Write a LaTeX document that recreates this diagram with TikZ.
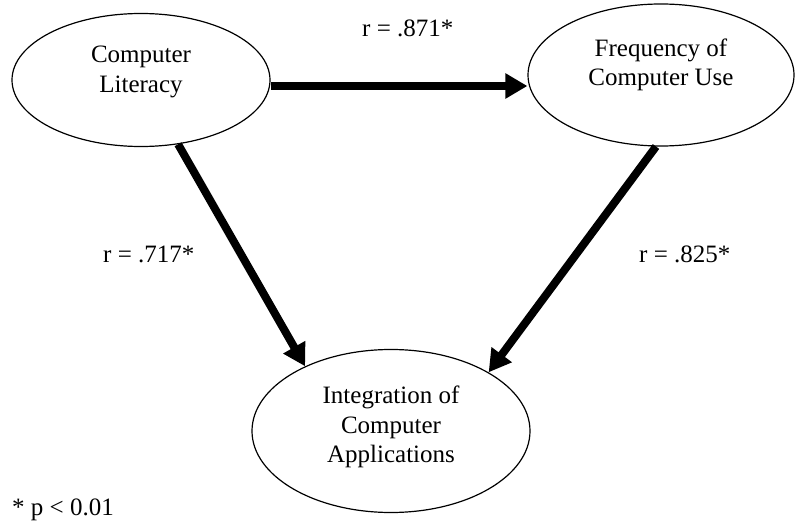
\documentclass[tikz,border=0pt]{standalone}
\usepackage{fontspec}
\setmainfont{Liberation Serif}
\usetikzlibrary{shapes.geometric,arrows.meta}

\tikzset{
  oval/.style={draw, ellipse, line width=1.2pt, inner sep=0pt},
  caption/.style={font=\fontsize{25}{29.5}\selectfont, align=center, inner sep=0pt},
  coef/.style={font=\fontsize{25}{29.5}\selectfont, inner sep=0pt, anchor=base west},
  path/.style={line width=8pt, -{Triangle[length=22pt,width=24pt]}}
}

\begin{document}
\begin{tikzpicture}[x=1pt,y=1pt]
  \useasboundingbox (0,0) rectangle (795,531);

  % constructs
  \node[oval, minimum width=258pt, minimum height=133pt] (lit) at (141,451) {};
  \node[oval, minimum width=266pt, minimum height=142pt] (freq) at (661,456) {};
  \node[oval, minimum width=278pt, minimum height=163pt] (integ) at (391,100) {};

  \node[caption] (litT) at ([yshift=8pt]lit.center) {Computer\\Literacy};
  \node[caption] (freqT) at ([yshift=10pt]freq.center) {Frequency of\\Computer Use};
  \node[caption] (integT) at ([yshift=4pt]integ.center) {Integration of\\Computer\\Applications};

  % correlations
  \draw[path] ([yshift=-6pt]lit.east) -- ([yshift=-11pt]freq.west);
  \draw[path] (lit.-60) -- (integ.143.6);
  \draw[path] (freq.-94) -- (integ.31.1);

  \node[coef] (r1) at (362,494) {r = .871*};
  \node[coef] (r2) at (103,269) {r = .717*};
  \node[coef] (r3) at (639,269) {r = .825*};
  \node[coef] (note) at (12,16) {* p {\char"3C} 0.01};
\end{tikzpicture}
\end{document}
